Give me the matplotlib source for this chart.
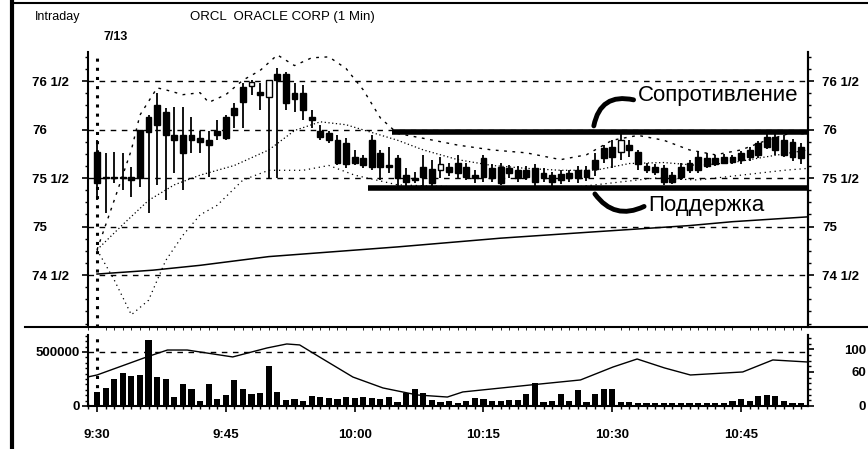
import matplotlib.pyplot as plt
from matplotlib.lines import Line2D
from matplotlib.ticker import MultipleLocator, FixedLocator

plt.rcParams['font.family'] = ['Liberation Sans', 'DejaVu Sans']

# ORCL 1-min bars on 7/13, minute 0 = 9:30
opens = [75.77, 75.51, 75.51, 75.51, 75.51, 76.00, 76.13, 76.25, 76.18, 75.94,
         75.94, 75.94, 75.91, 75.89, 75.99, 76.13, 76.22, 76.44, 76.45, 76.39,
         76.34, 76.57, 76.57, 76.38, 76.38, 76.13, 75.99, 75.96, 75.89, 75.86,
         75.72, 75.71, 75.89, 75.76, 75.63, 75.71, 75.53, 75.50, 75.61, 75.59,
         75.58, 75.61, 75.66, 75.61, 75.53, 75.71, 75.60, 75.61, 75.60, 75.58,
         75.58, 75.60, 75.55, 75.53, 75.54, 75.55, 75.58, 75.58, 75.69, 75.81,
         75.82, 75.77, 75.84, 75.77, 75.62, 75.61, 75.60, 75.53, 75.61, 75.66,
         75.72, 75.71, 75.71, 75.72, 75.72, 75.76, 75.79, 75.86, 75.92, 75.92,
         75.89, 75.87, 75.82]
highs = [75.89, 75.76, 75.77, 75.76, 75.61, 76.00, 76.15, 76.38, 76.22, 76.23,
         76.23, 76.13, 75.99, 75.99, 76.10, 76.15, 76.27, 76.48, 76.51, 76.48,
         76.51, 76.63, 76.59, 76.48, 76.46, 76.20, 76.05, 75.99, 75.94, 75.91,
         75.79, 75.74, 75.94, 75.79, 75.82, 75.74, 75.60, 75.56, 75.74, 75.69,
         75.72, 75.66, 75.74, 75.66, 75.58, 75.74, 75.65, 75.66, 75.63, 75.62,
         75.62, 75.65, 75.60, 75.56, 75.58, 75.58, 75.62, 75.62, 75.76, 75.84,
         75.89, 75.97, 75.89, 75.79, 75.66, 75.64, 75.63, 75.56, 75.66, 75.69,
         75.77, 75.76, 75.74, 75.75, 75.74, 75.78, 75.82, 75.88, 75.99, 75.97,
         75.94, 75.90, 75.86]
lows = [75.27, 75.14, 75.45, 75.38, 75.30, 75.41, 75.14, 75.43, 75.27, 75.55,
        75.38, 75.76, 75.76, 75.51, 75.89, 75.89, 76.02, 76.02, 76.36, 76.20,
        75.50, 75.50, 76.20, 76.18, 76.10, 76.02, 75.89, 75.86, 75.63, 75.60,
        75.63, 75.60, 75.58, 75.48, 75.55, 75.41, 75.42, 75.45, 75.38, 75.40,
        75.50, 75.52, 75.50, 75.48, 75.45, 75.46, 75.46, 75.43, 75.50, 75.46,
        75.48, 75.42, 75.46, 75.42, 75.44, 75.46, 75.45, 75.47, 75.52, 75.66,
        75.60, 75.69, 75.72, 75.58, 75.55, 75.53, 75.43, 75.44, 75.48, 75.55,
        75.55, 75.60, 75.62, 75.64, 75.64, 75.65, 75.68, 75.71, 75.80, 75.74,
        75.72, 75.68, 75.64]
closes = [75.45, 75.50, 75.50, 75.50, 75.48, 75.50, 75.97, 76.05, 75.94, 75.89,
          75.76, 75.89, 75.87, 75.84, 75.94, 75.91, 76.15, 76.28, 76.49, 76.36,
          76.51, 76.51, 76.27, 76.32, 76.20, 76.10, 75.92, 75.89, 75.66, 75.65,
          75.66, 75.63, 75.61, 75.61, 75.61, 75.50, 75.46, 75.48, 75.51, 75.45,
          75.65, 75.56, 75.55, 75.51, 75.50, 75.51, 75.50, 75.45, 75.55, 75.50,
          75.51, 75.46, 75.50, 75.46, 75.48, 75.50, 75.50, 75.51, 75.59, 75.71,
          75.72, 75.89, 75.79, 75.65, 75.58, 75.56, 75.46, 75.46, 75.51, 75.58,
          75.58, 75.62, 75.64, 75.66, 75.67, 75.69, 75.72, 75.74, 75.82, 75.79,
          75.74, 75.72, 75.71]
volume = [132, 166, 249, 304, 279, 285, 614, 264, 246, 86,
          200, 157, 49, 200, 64, 101, 239, 157, 107, 123,
          368, 132, 55, 64, 49, 92, 86, 71, 64, 86,
          75, 86, 71, 64, 86, 40, 117, 153, 117, 55,
          40, 46, 31, 46, 77, 68, 46, 46, 55, 55,
          107, 209, 37, 46, 107, 46, 144, 40, 107, 160,
          160, 37, 37, 31, 25, 31, 28, 31, 25, 31,
          28, 31, 25, 31, 46, 68, 46, 92, 98, 92,
          46, 31, 25]  # thousands of shares

# studies as (minute, value) points
long_ma_min = [0, 6.5, 12, 20, 27.5, 35, 47, 57, 69, 74, 82.8]
long_ma = [74.51, 74.55, 74.60, 74.69, 74.74, 74.79, 74.88, 74.94, 75.01, 75.05, 75.10]

upper_min = [0, 2, 4, 5, 7, 8, 10, 12, 13, 15, 17, 19, 21, 23, 25, 27, 29, 31, 33,
             35, 38, 42, 46, 50, 54, 57, 60, 63, 66, 69, 72, 75, 78, 81, 82.8]
upper_band = [74.76, 75.27, 75.79, 76.15, 76.43, 76.41, 76.36, 76.38, 76.28, 76.36,
              76.51, 76.61, 76.77, 76.66, 76.74, 76.75, 76.63, 76.41, 76.12, 75.96,
              75.91, 75.84, 75.79, 75.76, 75.69, 75.74, 75.89, 75.94, 75.89, 75.79,
              75.74, 75.79, 75.89, 75.97, 75.95]

mid_min = [0, 3, 6, 9, 12, 16, 20, 23, 26, 29, 32, 35, 38, 42, 46, 50, 54, 58, 62,
           66, 70, 74, 78, 82.8]
mid_line = [74.76, 75.02, 75.27, 75.43, 75.53, 75.63, 75.79, 75.99, 76.08, 76.05,
            75.97, 75.89, 75.79, 75.69, 75.63, 75.60, 75.58, 75.58, 75.65, 75.66,
            75.63, 75.66, 75.72, 75.79]

lower_min = [0, 2, 4, 6, 8, 10, 12, 14, 17, 20, 24, 27, 30, 35, 45, 55, 60, 65, 70,
             75, 80, 82.8]
lower_band = [74.76, 74.45, 74.09, 74.24, 74.65, 74.91, 75.12, 75.22, 75.48, 75.58,
              75.58, 75.63, 75.53, 75.43, 75.40, 75.40, 75.45, 75.50, 75.48, 75.53,
              75.58, 75.60]

vol_avg_min = [-1, 0, 5.8, 8.2, 10.5, 15.8, 19.8, 22.1, 23.6, 25.9, 29.8, 33.3, 37.3,
               40.8, 42.6, 50.4, 56.3, 60.1, 62.9, 66.1, 69.1, 75.2, 78.7, 82.8]
vol_avg = [270, 287, 454, 518, 518, 454, 537, 574, 565, 454, 268, 167, 102,
           83, 130, 194, 241, 361, 435, 352, 287, 315, 426, 407]

resistance, res_start = 75.98, 34.4
support, sup_start = 75.40, 31.6

price_ticks = [74.5, 75.0, 75.5, 76.0, 76.5]
price_labels = ['74 1/2', '75', '75 1/2', '76', '76 1/2']
time_ticks = [0, 15, 30, 45, 60, 75]
time_labels = ['9:30', '9:45', '10:00', '10:15', '10:30', '10:45']

W, H = 868, 449
fig = plt.figure(figsize=(W / 100, H / 100), dpi=100)
ax = fig.add_axes([88 / W, 122 / H, 720 / W, 275 / H])
axv = fig.add_axes([88 / W, 43 / H, 720 / W, 71 / H], sharex=ax)

# price panel
n = len(opens)
for i in range(n):
    ax.vlines(i, lows[i], highs[i], color='k', lw=1.3, zorder=3)
    lo, hi = min(opens[i], closes[i]), max(opens[i], closes[i])
    fill = 'white' if closes[i] > opens[i] else 'k'
    ax.bar(i, max(hi - lo, 0.012), bottom=lo, width=0.68, color=fill,
           edgecolor='k', lw=1, zorder=4)

for p in price_ticks:
    ax.axhline(p, color='k', lw=1, ls=(0, (4, 4)), zorder=1)
ax.axvline(0, color='k', lw=2.2, ls=(0, (1, 2)), zorder=2)

ax.plot(long_ma_min, long_ma, color='k', lw=1.1, zorder=2)
ax.plot(upper_min, upper_band, color='k', lw=1, ls=(0, (2, 4)), zorder=2)
ax.plot(mid_min, mid_line, color='k', lw=0.9, ls=(0, (1, 2)), zorder=2)
ax.plot(lower_min, lower_band, color='k', lw=0.9, ls=(0, (1, 3)), zorder=2)

ax.hlines(resistance, res_start, 82.8, color='k', lw=4, zorder=5)
ax.hlines(support, sup_start, 82.8, color='k', lw=4, zorder=5)

ax.text(63.0, 76.35, 'Сопротивление', fontsize=16, ha='left', va='center')
ax.text(64.2, 75.22, 'Поддержка', fontsize=16, ha='left', va='center')
ax.annotate('', xy=(57.8, 76.01), xytext=(62.8, 76.30),
            arrowprops=dict(arrowstyle='-', lw=3.5, color='k',
                            connectionstyle='arc3,rad=0.55'))
ax.annotate('', xy=(57.8, 75.36), xytext=(64.0, 75.22),
            arrowprops=dict(arrowstyle='-', lw=3.5, color='k',
                            connectionstyle='arc3,rad=-0.45'))

ax.set_xlim(-1.05, 82.8)
ax.set_ylim(73.964, 76.8)
for s in ['top', 'bottom']:
    ax.spines[s].set_visible(False)
ax.spines['left'].set_linewidth(1.5)
ax.spines['right'].set_linewidth(1.5)
ax.tick_params(axis='x', bottom=False, labelbottom=False)
ax.yaxis.set_major_locator(FixedLocator(price_ticks))
ax.yaxis.set_minor_locator(MultipleLocator(0.125))
ax.set_yticklabels(price_labels)
ax.tick_params(axis='y', which='major', length=4, width=1.2, pad=36,
               labelsize=9.5)
ax.tick_params(axis='y', which='minor', length=2, width=1)
for lbl in ax.get_yticklabels():
    lbl.set_ha('left')
    lbl.set_fontweight('bold')

axr = ax.twinx()
axr.set_ylim(ax.get_ylim())
axr.spines['right'].set_linewidth(1.5)
for s in ['top', 'bottom', 'left']:
    axr.spines[s].set_visible(False)
axr.yaxis.set_major_locator(FixedLocator(price_ticks))
axr.yaxis.set_minor_locator(MultipleLocator(0.125))
axr.set_yticklabels(price_labels, fontweight='bold')
axr.tick_params(axis='y', which='major', length=4, width=1.2, pad=6,
                labelsize=9.5)
axr.tick_params(axis='y', which='minor', length=2, width=1)

# volume panel
vol_shares = [v * 1000 for v in volume]
axv.bar(range(n), vol_shares, width=0.72, color='k', zorder=3)
axv.plot(vol_avg_min, [v * 1000 for v in vol_avg], color='k', lw=1, zorder=2)
axv.axhline(500000, color='k', lw=1, ls=(0, (4, 4)), zorder=1)
axv.axvline(0, color='k', lw=2.2, ls=(0, (1, 2)), zorder=2)
axv.set_ylim(0, 657000)
axv.spines['top'].set_visible(False)
for s in ['left', 'right', 'bottom']:
    axv.spines[s].set_linewidth(1.5)
axv.yaxis.set_major_locator(FixedLocator([0, 500000]))
axv.yaxis.set_minor_locator(MultipleLocator(50000))
axv.set_yticklabels(['0', '500000'], fontweight='bold')
axv.tick_params(axis='y', which='major', length=4, width=1.2, pad=2,
                labelsize=9.5)
axv.tick_params(axis='y', which='minor', length=2, width=1)
axv.xaxis.set_major_locator(FixedLocator(time_ticks))
axv.xaxis.set_minor_locator(MultipleLocator(1))
axv.set_xticklabels(time_labels, fontweight='bold')
axv.tick_params(axis='x', which='major', direction='inout', length=9,
                width=1.2, pad=12, labelsize=9.5)
axv.tick_params(axis='x', which='minor', direction='inout', length=5, width=1)

axo = axv.twinx()
axo.set_ylim(0, 125)
for s in ['top', 'bottom', 'left']:
    axo.spines[s].set_visible(False)
axo.spines['right'].set_linewidth(1.5)
axo.yaxis.set_major_locator(FixedLocator([0, 60, 100]))
axo.yaxis.set_minor_locator(MultipleLocator(10))
axo.set_yticklabels(['0', '60', '100'], fontweight='bold')
axo.tick_params(axis='y', which='major', length=4, width=1.2, pad=38,
                labelsize=9.5)
axo.tick_params(axis='y', which='minor', length=2, width=1)
for lbl in axo.get_yticklabels():
    lbl.set_ha('right')

# frame, header
fig.add_artist(Line2D([12 / W, 12 / W], [0, 1], color='k', lw=3))
fig.add_artist(Line2D([12 / W, 1], [1 - 3 / H, 1 - 3 / H], color='k', lw=1.5))
fig.add_artist(Line2D([25 / W, 1], [122 / H, 122 / H], color='k', lw=1.5))
fig.text(35 / W, 1 - 17 / H, 'Intraday', fontsize=9, ha='left', va='center')
fig.text(190 / W, 1 - 17 / H, 'ORCL  ORACLE CORP (1 Min)', fontsize=9.5,
         ha='left', va='center')
fig.text(103 / W, 1 - 37 / H, '7/13', fontsize=9, fontweight='bold',
         ha='left', va='center')

fig.savefig('out.png', dpi=100)
